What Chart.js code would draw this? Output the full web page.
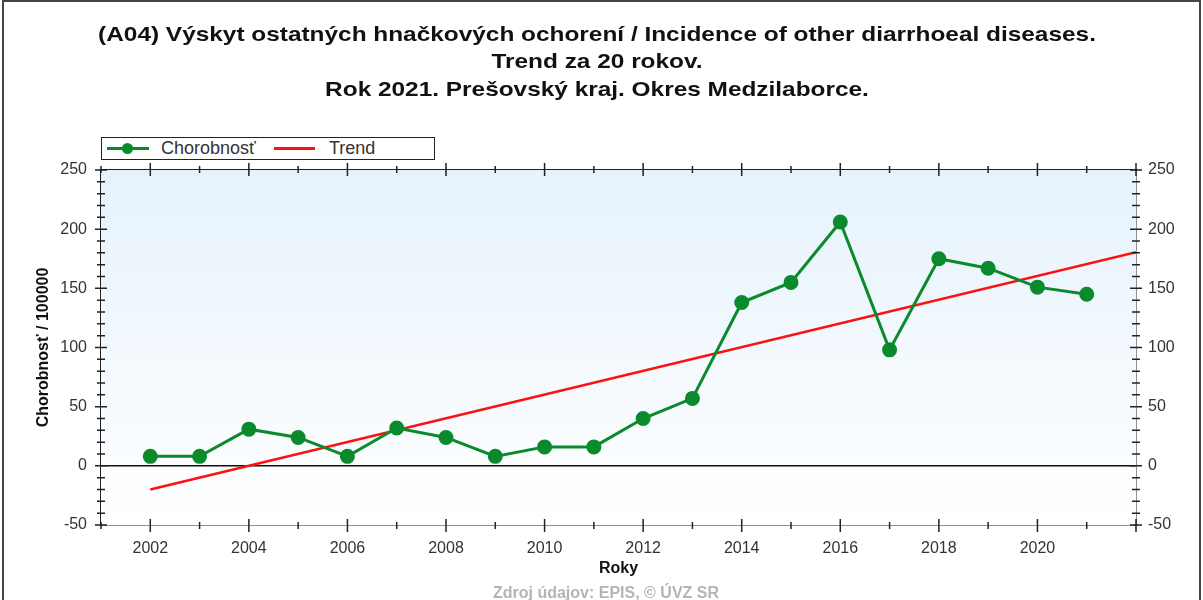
<!DOCTYPE html>
<html>
<head>
<meta charset="utf-8">
<script src="https://cdn.jsdelivr.net/npm/chart.js@4"></script>
<style>
html, body { margin: 0; padding: 0; background: #fff; }
#wrap { position: relative; width: 1203px; height: 600px; overflow: hidden; }
#legend { position: absolute; left: 101px; top: 137px; width: 332px; height: 21px;
  border: 1.5px solid #222; background: #fff; font: 18px "Liberation Sans", Arial, sans-serif; color: #333; }
#legend span { position: absolute; }
</style>
</head>
<body>
<div id="wrap">
  <canvas id="myChart" width="1203" height="600"></canvas>
  <div id="legend">
    <span style="left:5px;top:9px;width:42px;height:3px;background:#0a8a2c"></span>
    <span style="left:20px;top:5px;width:11px;height:11px;border-radius:50%;background:#0a8a2c"></span>
    <span style="left:59px;top:0;line-height:21px">Chorobnosť</span>
    <span style="left:172px;top:9px;width:41px;height:3px;background:#ff1010"></span>
    <span style="left:227px;top:0;line-height:21px">Trend</span>
  </div>
</div>
<script>
const years = [2002, 2003, 2004, 2005, 2006, 2007, 2008, 2009, 2010, 2011,
               2012, 2013, 2014, 2015, 2016, 2017, 2018, 2019, 2020, 2021];
const incidence = [8, 8, 31, 24, 8, 32, 24, 8, 16, 16,
                   40, 57, 138, 155, 206, 98, 175, 167, 151, 145];
const trendYears = [2002, 2022];
const trendValues = [-20, 180.5];
const titleLines = [
  '(A04) Výskyt ostatných hnačkových ochorení / Incidence of other diarrhoeal diseases.',
  'Trend za 20 rokov.',
  'Rok 2021. Prešovský kraj. Okres Medzilaborce.'
];

const FONT = '"Liberation Sans", Arial, sans-serif';
const GREEN = '#0a8a2c';
const RED = '#ff1010';

function toPoints(xs, ys) {
  return xs.map((x, i) => ({ x: x, y: ys[i] }));
}

// background, zero line, tick marks, frame, title and source note
const decor = {
  id: 'decor',
  beforeDatasetsDraw(chart) {
    const { ctx, chartArea: a } = chart;
    ctx.save();
    const g = ctx.createLinearGradient(0, a.top, 0, a.bottom);
    g.addColorStop(0, '#e6f2fc');
    g.addColorStop(1, '#ffffff');
    ctx.fillStyle = g;
    ctx.fillRect(a.left, a.top, a.right - a.left, a.bottom - a.top);
    const y0 = chart.scales.y.getPixelForValue(0);
    ctx.strokeStyle = '#111';
    ctx.lineWidth = 1.5;
    ctx.beginPath();
    ctx.moveTo(a.left, y0);
    ctx.lineTo(a.right, y0);
    ctx.stroke();
    ctx.restore();
  },
  afterDraw(chart) {
    const { ctx, chartArea: a } = chart;
    ctx.save();
    ctx.strokeStyle = '#222';
    ctx.lineWidth = 1.5;
    ctx.beginPath();
    chart.scales.y.ticks.forEach(t => {
      const p = chart.scales.y.getPixelForValue(t.value);
      const big = t.value % 50 === 0;
      ctx.moveTo(a.left - (big ? 6 : 4), p);
      ctx.lineTo(a.left + (big ? 6 : 4), p);
      ctx.moveTo(a.right - (big ? 6 : 4), p);
      ctx.lineTo(a.right + (big ? 6 : 4), p);
    });
    chart.scales.x.ticks.forEach(t => {
      const p = chart.scales.x.getPixelForValue(t.value);
      const big = t.value % 2 === 0;
      ctx.moveTo(p, a.bottom - (big ? 6 : 3));
      ctx.lineTo(p, a.bottom + (big ? 7 : 4));
      ctx.moveTo(p, a.top - (big ? 7 : 4));
      ctx.lineTo(p, a.top + (big ? 6 : 3));
    });
    ctx.stroke();

    ctx.strokeStyle = '#444';
    ctx.lineWidth = 2;
    ctx.strokeRect(3, 1, 1197, 700);

    // title, drawn a bit wide like the original
    ctx.fillStyle = '#111';
    ctx.font = 'bold 20.5px ' + FONT;
    ctx.textAlign = 'center';
    ctx.textBaseline = 'middle';
    titleLines.forEach((line, i) => {
      ctx.save();
      ctx.translate(597, 35 + i * 27.5);
      ctx.scale(1.19, 1);
      ctx.fillText(line, 0, 0);
      ctx.restore();
    });

    ctx.fillStyle = '#b4b4b4';
    ctx.font = 'bold 16px ' + FONT;
    ctx.fillText('Zdroj údajov: EPIS, © ÚVZ SR', 606, 594);
    ctx.restore();
  }
};

const ctx = document.getElementById('myChart').getContext('2d');

const myChart = new Chart(ctx, {
  type: 'line',
  data: {
    datasets: [{
      label: 'Chorobnosť',
      data: toPoints(years, incidence),
      borderColor: GREEN,
      backgroundColor: GREEN,
      borderWidth: 3,
      pointRadius: 6,
      pointHoverRadius: 6,
      tension: 0
    }, {
      label: 'Trend',
      data: toPoints(trendYears, trendValues),
      borderColor: RED,
      backgroundColor: RED,
      borderWidth: 2.5,
      pointRadius: 0,
      tension: 0
    }]
  },
  options: {
    responsive: false,
    animation: false,
    layout: { padding: { top: 162, left: 0, right: 0, bottom: 0 } },
    plugins: {
      legend: { display: false },
      tooltip: { enabled: false },
      title: { display: false }
    },
    scales: {
      x: {
        type: 'linear',
        position: 'bottom',
        min: 2001,
        max: 2022,
        grid: { display: false },
        border: { display: true, color: '#222', width: 1.5 },
        ticks: {
          stepSize: 1,
          autoSkip: false,
          maxRotation: 0,
          padding: 6,
          color: '#333',
          font: { family: FONT, size: 16 },
          callback: v => (v % 2 === 0 && v <= 2020) ? String(v) : ''
        },
        title: {
          display: true,
          text: 'Roky',
          color: '#111',
          font: { family: FONT, size: 16, weight: 'bold' },
          padding: { top: 0, bottom: 22 }
        },
        afterFit: s => { s.height = 75; }
      },
      xTop: {
        type: 'linear',
        position: 'top',
        min: 2001,
        max: 2022,
        grid: { display: false },
        border: { display: true, color: '#222', width: 1.5 },
        ticks: { display: false, stepSize: 1 },
        afterFit: s => { s.height = 8; }
      },
      y: {
        position: 'left',
        min: -50,
        max: 250,
        grid: { display: false },
        border: { display: true, color: '#222', width: 1.5 },
        ticks: {
          stepSize: 10,
          autoSkip: false,
          padding: 6,
          color: '#333',
          font: { family: FONT, size: 16 },
          callback: v => v % 50 === 0 ? String(v) : ''
        },
        title: {
          display: true,
          text: 'Chorobnosť / 100000',
          color: '#111',
          font: { family: FONT, size: 16, weight: 'bold' },
          padding: { top: 34, bottom: 0 }
        },
        afterFit: s => { s.width = 101; }
      },
      yRight: {
        position: 'right',
        min: -50,
        max: 250,
        grid: { display: false },
        border: { display: true, color: '#222', width: 1.5 },
        ticks: {
          stepSize: 10,
          autoSkip: false,
          padding: 4,
          color: '#333',
          font: { family: FONT, size: 16 },
          callback: v => v % 50 === 0 ? String(v) : ''
        },
        afterFit: s => { s.width = 67; }
      }
    }
  },
  plugins: [decor]
});
</script>
</body>
</html>
